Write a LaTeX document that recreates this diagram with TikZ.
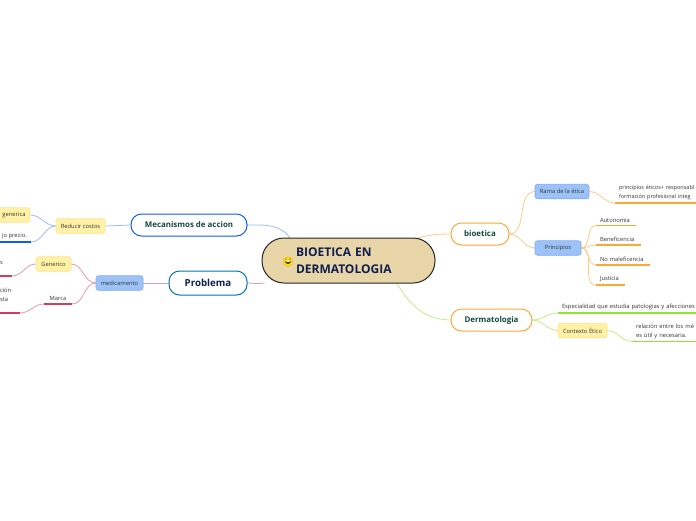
\documentclass[tikz,border=0pt]{standalone}
\usepackage{fontspec}
\setmainfont{Open Sans}
\usetikzlibrary{positioning,backgrounds}

\definecolor{orangeline}{HTML}{FFA733}
\definecolor{orangelink}{HTML}{FFCB85}
\definecolor{greenline}{HTML}{8BE82E}
\definecolor{greenlink}{HTML}{BDF085}
\definecolor{blueline}{HTML}{0F5AF5}
\definecolor{bluelink}{HTML}{9DBBFA}
\definecolor{redline}{HTML}{CF3F5A}
\definecolor{redlink}{HTML}{E79AAA}
\definecolor{blueback}{HTML}{9CC3F8}
\definecolor{yellowback}{HTML}{FFF2A6}
\definecolor{rootback}{HTML}{E8D5A8}
\definecolor{navytext}{HTML}{0F2050}
\definecolor{greentext}{HTML}{124A3C}
\definecolor{greytext}{HTML}{333333}

\begin{document}
\begin{tikzpicture}[
  x=1pt, y=-1pt,
  every node/.style={outer sep=0pt, font=\fontsize{5.8}{9}\selectfont, text=greytext},
  root/.style={draw=black!85, line width=1pt, fill=rootback, rounded corners=22pt, minimum height=45pt, inner xsep=34pt, text width=105pt, text=navytext, font=\fontsize{12}{17}\selectfont\bfseries, align=left},
  topic/.style={draw=#1, fill=white, line width=1pt, rounded corners=10.5pt, inner sep=0pt, minimum height=22pt, text=greentext, font=\fontsize{7.9}{10}\selectfont\bfseries},
  bluebox/.style={draw=blueback!85!blue, fill=blueback, line width=.6pt, rounded corners=2.5pt, inner sep=0pt, minimum height=14.5pt},
  yellowbox/.style={draw=yellowback!85!orange, fill=yellowback, line width=.6pt, rounded corners=2.5pt, inner sep=0pt, minimum height=14.5pt},
  leaf/.style={inner xsep=4pt, inner ysep=3pt, text width=#1, align=left},
  link/.style={line width=.8pt},
  under/.style={line width=1.6pt}
]
\useasboundingbox (0,0) rectangle (696,520);
% centre
\node[root] (root) at (348.5,260.5) {BIOETICA EN\\DERMATOLOGIA};
\node[circle, fill=yellow!85!orange, draw=orange!70, line width=.3pt, inner sep=0pt, minimum size=10pt] (smiley) at (288,261.5) {};
\fill[black!80] (285,261) arc[start angle=180, end angle=360, radius=3pt] -- cycle;
\fill[white] (285.8,261) rectangle (290.2,262);
\fill[black!80] (286,259) circle (.6pt) (290,259) circle (.6pt);

% right side
\node[topic=orangeline, minimum width=58pt, right=16pt of root.east, yshift=26.5pt] (bioetica) {bioetica};
\node[topic=orangeline, minimum width=81pt, right=16pt of root.east, yshift=-59.5pt] (derma) {Dermatologia};
\node[bluebox, minimum width=54pt, right=26pt of bioetica.east, yshift=42.5pt] (rama) {Rama de la ética};
\node[bluebox, minimum width=46pt, right=26pt of bioetica.east, yshift=-14pt] (principios) {Principios};
\node[leaf=95pt, above right=-11.5pt and 26pt of rama.east, font=\fontsize{5.5}{9}\selectfont] (etica) {principios éticos+ responsabl\\formación profesional integ};
\node[leaf=32pt, above right=22.5pt and 15pt of principios.east] (autonomia) {Autonomia};
\node[leaf=37pt, above right=3pt and 15pt of principios.east] (benef) {Beneficencia};
\node[leaf=46pt, above right=-17pt and 15pt of principios.east] (nomal) {No maleficencia};
\node[leaf=21pt, above right=-37pt and 15pt of principios.east] (justicia) {Justicia};
\node[leaf=150pt, above right=7pt and 26pt of derma.east] (espec) {Especialidad que estudia patologias y afecciones};
\node[yellowbox, minimum width=49pt, right=26pt of derma.east, yshift=-10.5pt] (contexto) {Contexto Ético};
\node[leaf=70pt, above right=-11pt and 25pt of contexto.east] (relacion) {relación entre los mé\\es útil y necesaria.};

% left side
\node[topic=blueline, minimum width=116pt, left=15pt of root.west, yshift=35.5pt] (mecanismos) {Mecanismos de accion};
\node[topic=blue!35!cyan!70!black, minimum width=78pt, minimum height=24pt, left=15pt of root.west, yshift=-22.5pt, text=navytext, font=\fontsize{9.7}{11}\selectfont\bfseries] (problema) {Problema};
\node[yellowbox, minimum width=49pt, left=26pt of mecanismos.west, yshift=-1pt] (reducir) {Reducir costos};
\node[bluebox, minimum width=47pt, left=26pt of problema.west] (medicamento) {medicamento};
\node[yellowbox, minimum width=32pt, left=26pt of reducir.west, yshift=11pt] (generica) {generica};
\node[inner xsep=4pt, inner ysep=3pt, above left=-16pt and 25pt of reducir.west] (precio) {jo precio.};
\node[yellowbox, minimum width=35pt, left=25pt of medicamento.west, yshift=19pt] (generico) {Generico};
\node[leaf=8pt, above left=-12pt and 24pt of generico.west] (ese) {s\\\mbox{}};
\node[inner ysep=3pt, minimum width=28pt, inner xsep=0pt, above left=-21pt and 24pt of medicamento.west] (marca) {Marca};
\node[leaf=16pt, above left=-9pt and 24pt of marca.south west] (cion) {ción\\sta\\\mbox{}};

\begin{scope}[on background layer]
  \draw[link, orangelink] (root.18) to[out=15,in=180] (bioetica.west);
  \draw[link, greenlink] (root.-25) to[out=-60,in=180] (derma.west);
  \draw[link, bluelink] (root.159) to[out=125,in=0] (mecanismos.east);
  \draw[link, redlink] (root.195) to[out=190,in=0] (problema.east);
  \foreach \kid in {rama,principios}
    \draw[link, orangelink] (bioetica.east) to[out=0,in=180] (\kid.west);
  \draw[link, orangelink] (rama.east) to[out=0,in=180] (etica.south west);
  \foreach \kid in {autonomia,benef,nomal,justicia} {
    \draw[link, orangelink] (principios.east) to[out=0,in=180] (\kid.south west);
    \draw[under, orangeline] (\kid.south west) -- (\kid.south east);
  }
  \draw[under, orangeline] (etica.south west) -- (etica.south east);
  \draw[link, greenlink] (derma.east) to[out=0,in=180] (espec.south west);
  \draw[link, greenlink] (derma.east) to[out=0,in=180] (contexto.west);
  \draw[link, greenlink] (contexto.east) to[out=0,in=180] (relacion.south west);
  \draw[under, greenline] (espec.south west) -- (espec.south east);
  \draw[under, greenline] (relacion.south west) -- (relacion.south east);
  \draw[link, bluelink] (mecanismos.west) -- (reducir.east);
  \draw[link, bluelink] (reducir.west) to[out=180,in=0] (generica.east);
  \draw[link, bluelink] (reducir.west) to[out=180,in=0] (precio.south east);
  \draw[under, blueline] (precio.south west) -- (precio.south east);
  \draw[link, redlink] (problema.west) -- (medicamento.east);
  \draw[link, redlink] (medicamento.west) to[out=180,in=0] (generico.east);
  \draw[link, redlink] (medicamento.west) to[out=180,in=0] (marca.south east);
  \draw[link, redlink] (generico.west) to[out=180,in=0] (ese.south east);
  \draw[link, redlink] (marca.south west) to[out=180,in=0] (cion.south east);
  \draw[under, redline] (ese.south west) -- (ese.south east);
  \draw[under, redline] (marca.south west) -- (marca.south east);
  \draw[under, redline] (cion.south west) -- (cion.south east);
\end{scope}
\end{tikzpicture}
\end{document}
